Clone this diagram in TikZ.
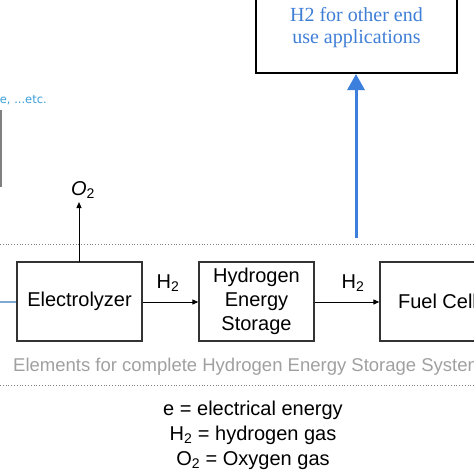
\documentclass[tikz,border=0pt]{standalone}
\usepackage{fontspec}
\setmainfont{Liberation Sans}
\newfontfamily\serifbox{Liberation Serif}
\newfontfamily\dejavu{DejaVu Sans}
\usetikzlibrary{arrows.meta}
\definecolor{boxline}{HTML}{333333}
\definecolor{blueline}{HTML}{3C7FDC}
\definecolor{inline}{HTML}{7FA8D2}
\definecolor{bluetext}{HTML}{3F7ED6}
\definecolor{lightblue}{HTML}{3A9FD8}
\definecolor{greytext}{HTML}{A0A0A0}
\tikzset{
  stagebox/.style={draw=boxline, line width=1.3pt, minimum width=#1, minimum height=79pt, inner sep=0pt, align=center, font=\fontsize{20}{24}\selectfont},
  flow/.style={-{Triangle[length=6pt,width=5pt]}, line width=1pt, black},
  lbl/.style={font=\fontsize{20}{24}\selectfont, inner sep=0pt},
  dotline/.style={gray, line width=0.8pt, dotted}
}
\begin{document}
\begin{tikzpicture}[x=1pt,y=-1pt]
\useasboundingbox (0,0) rectangle (474,474);
\clip (0,0) rectangle (474,474);

% dotted separators
\draw[dotline] (0,244) -- (474,244);
\draw[dotline] (0,385) -- (474,385);

% left fragments
\node[anchor=east, text=lightblue, font=\dejavu\fontsize{11.5}{13}\selectfont, inner sep=0pt] (etc) at (47,100) {e, ...etc.};
\draw[gray, line width=2.5pt] (0.5,110) -- (0.5,187);

% main boxes
\node[stagebox=125pt] (elec) at (79.5,301.5) {Electrolyzer};
\node[stagebox=115pt] (hes) at (256.5,301.5) {Hydrogen\\Energy\\Storage};
\node[stagebox=115pt] (fc) at (437.5,301.5) {Fuel Cell};

% input line from left
\coordinate (inL) at (0,302);
\draw[inline, line width=1.5pt] (inL) -- (elec.west |- inL);

% flows
\draw[flow] (elec.east |- 0,302) -- (hes.west |- 0,302);
\draw[flow] (hes.east |- 0,302) -- (fc.west |- 0,302);
\node[lbl] (h2a) at (168,283) {H\textsubscript{2}};
\node[lbl] (h2b) at (353,283) {H\textsubscript{2}};

% oxygen
\node[lbl] (o2) at (83,190) {\textit{O}\textsubscript{2}};
\coordinate (o2top) at (79,202);
\draw[flow] (79,262) -- (o2top);

% top box
\node[draw=black, line width=2pt, minimum width=201pt, minimum height=86pt, inner sep=0pt] (top) at (356.5,30) {};
\node[text=bluetext, align=center, font=\serifbox\fontsize{20}{22}\selectfont, inner sep=0pt] (toptext) at (356.5,28) {H2 for other end\\use applications};
\coordinate (bstart) at (356,238);
\draw[blueline, line width=3pt, -{Triangle[length=16pt,width=17pt]}] (bstart) -- (top.south -| bstart);

% caption
\node[anchor=west, text=greytext, font=\fontsize{18.5}{22}\selectfont, inner sep=0pt] (cap) at (13,367) {Elements for complete Hydrogen Energy Storage System};

% legend
\node[align=center, font=\fontsize{20}{25}\selectfont, inner sep=0pt] (legend) at (253,435) {e = electrical energy\\H\textsubscript{2} = hydrogen gas\\O\textsubscript{2} = Oxygen gas};
\end{tikzpicture}
\end{document}
